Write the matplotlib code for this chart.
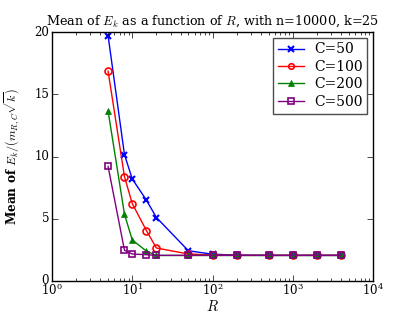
import matplotlib
matplotlib.use("Agg")
import matplotlib.pyplot as plt

R = [5, 8, 10, 15, 20, 50, 100, 200, 500, 1000, 2000, 4000]
c50 = [19.7, 10.15, 8.2, 6.5, 5.1, 2.43, 2.15, 2.08, 2.06, 2.06, 2.06, 2.06]
c100 = [16.85, 8.38, 6.22, 4.05, 2.65, 2.17, 2.08, 2.06, 2.06, 2.06, 2.06, 2.06]
c200 = [13.65, 5.36, 3.3, 2.4, 2.05, 2.05, 2.05, 2.05, 2.05, 2.05, 2.05, 2.05]
c500 = [9.2, 2.47, 2.17, 2.11, 2.06, 2.06, 2.06, 2.06, 2.06, 2.06, 2.06, 2.06]
labels = ["C=50", "C=100", "C=200", "C=500"]

plt.style.use("classic")
plt.rcParams["font.family"] = "DejaVu Serif"
plt.rcParams["mathtext.fontset"] = "cm"

fig = plt.figure(figsize=(4.15, 3.13), dpi=100, facecolor="white")
ax = fig.add_axes([52 / 415, 1 - 281 / 313, 321 / 415, 249 / 313])

ax.plot(R, c50, color="blue", marker="x", ms=5, mew=1.5, lw=1, label=labels[0])
ax.plot(R, c100, color="red", marker="o", ms=5, mfc="none", mec="red", mew=1.2, lw=1, label=labels[1])
ax.plot(R, c200, color="green", marker="^", ms=5, mec="green", lw=1, label=labels[2])
ax.plot(R, c500, color="purple", marker="s", ms=5, mfc="none", mec="purple", mew=1.2, lw=1, label=labels[3])

ax.set_xscale("log")
ax.set_xlim(1, 1e4)
ax.set_ylim(0, 20)
ax.set_yticks([0, 5, 10, 15, 20])
ax.tick_params(labelsize=8.5, pad=2)
ax.tick_params(axis="x", pad=1)
ax.set_xlabel("$R$", fontsize=10.5)
ax.xaxis.set_label_coords(0.5, -0.072)
ax.set_ylabel(r"Mean of $E_k/(m_{R,C}\sqrt{k})$", fontsize=8.7, fontweight="bold")
ax.yaxis.set_label_coords(-0.09, 0.5)
ax.set_title(r"Mean of $E_k$ as a function of $R$, with n=10000, k=25", fontsize=9.2)

leg = ax.legend(loc="upper right", numpoints=1, fontsize=10, handlelength=1.9,
                handletextpad=0.7, labelspacing=0.25, borderpad=0.35,
                borderaxespad=0.4, markerscale=0.8)
leg.get_frame().set_edgecolor("0.3")

fig.savefig("out.png", dpi=100, facecolor="white")
